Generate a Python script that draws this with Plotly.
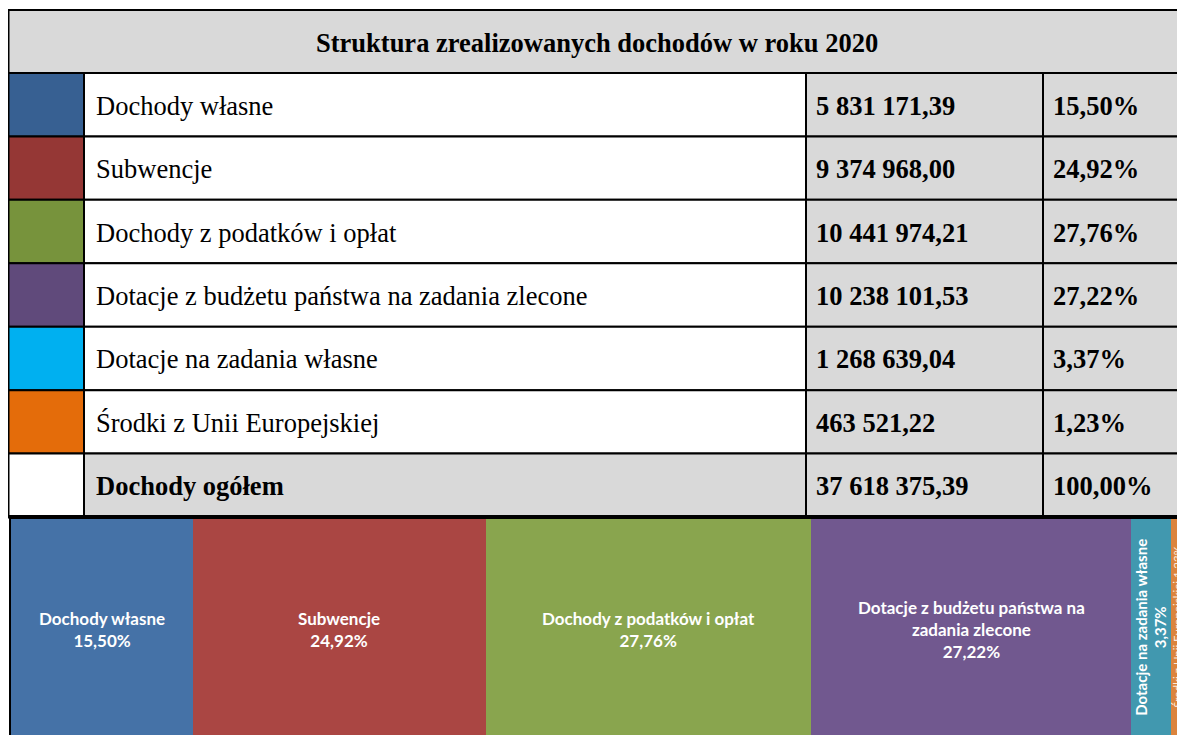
import plotly.graph_objects as go

# ---------------- data ----------------
TITLE = "Struktura zrealizowanych dochodów w roku 2020"
CATEGORIES = [
    "Dochody własne",
    "Subwencje",
    "Dochody z podatków i opłat",
    "Dotacje z budżetu państwa na zadania zlecone",
    "Dotacje na zadania własne",
    "Środki z Unii Europejskiej",
]
VALUES = [5831171.39, 9374968.00, 10441974.21, 10238101.53, 1268639.04, 463521.22]
TOTAL_LABEL = "Dochody ogółem"
BAR_LABELS = [
    "Dochody własne",
    "Subwencje",
    "Dochody z podatków i opłat",
    "Dotacje z budżetu państwa na<br>zadania zlecone",
    "Dotacje na zadania własne",
    "Środki z Unii Europejskiej",
]

# ---------------- styles ----------------
SWATCH_COLORS = ["#376092", "#953735", "#77933C", "#604A7B", "#00B0F0", "#E46C0A"]
BAR_COLORS = ["#4572A7", "#AA4643", "#89A54E", "#71588F", "#4198AF", "#DB843D"]
GRAY = "#D9D9D9"
SERIF = "Liberation Serif"
SANS = "Lato"

# The page body has an 8px margin, so the figure is sized to fit the window.
W, H = 1177, 727
COL_EDGES = [0.5, 76, 798, 1035, 1192]
TAB_TOP = 2
TITLE_H = 63
TAB_BOTTOM = 509
BAR_TOP = 511
BAR_LEFT = 3

total = sum(VALUES)
pcts = [v / total * 100 for v in VALUES]


def fmt_num(v):
    return f"{v:,.2f}".replace(",", " ").replace(".", ",")


def fmt_pct(p):
    return f"{p:.2f}".replace(".", ",") + "%"


fig = go.Figure()

# ---------------- bottom strip (stacked bar) ----------------
for cat, v, c in zip(CATEGORIES, VALUES, BAR_COLORS):
    fig.add_trace(go.Bar(
        x=[v], y=["Dochody"], orientation="h", name=cat,
        marker=dict(color=c, line=dict(width=0)),
        hovertemplate=cat + ": %{x:,.2f}<extra></extra>",
        showlegend=False,
        xaxis="x", yaxis="y",
    ))

annotations = []
cum = 0
for i, (lab, v, p) in enumerate(zip(BAR_LABELS, VALUES, pcts)):
    center = cum + v / 2
    cum += v
    share = v / total
    if share > 0.1:
        annotations.append(dict(
            x=center, y=0, xref="x", yref="y", yshift=-2, showarrow=False,
            text=f"<b>{lab}<br>{fmt_pct(p)}</b>",
            font=dict(family=SANS, size=17, color="white"),
            align="center",
        ))
    elif share > 0.02:
        annotations.append(dict(
            x=center, y=0, xref="x", yref="y", showarrow=False,
            text=f"<b>{lab}<br>{fmt_pct(p)}</b>", textangle=-90,
            font=dict(family=SANS, size=15, color="white"),
            align="center",
        ))
    else:
        annotations.append(dict(
            x=center, y=0, xref="x", yref="y", showarrow=False, xshift=-1,
            text=f"{lab} {fmt_pct(p)}", textangle=-90,
            font=dict(family=SANS, size=11.5, color="#FDEBDC"),
            align="center", borderpad=0,
        ))

# ---------------- table (shapes + annotations on pixel axes) ----------------
shapes = []
LINE = dict(color="black", width=2)

# title row
shapes.append(dict(type="rect", xref="x2", yref="y2",
                   x0=COL_EDGES[0], x1=COL_EDGES[-1], y0=TAB_TOP, y1=TAB_TOP + TITLE_H,
                   fillcolor=GRAY, line=LINE, layer="above"))
annotations.append(dict(
    x=(COL_EDGES[0] + W) / 2, y=TAB_TOP + TITLE_H / 2 + 1, xref="x2", yref="y2",
    showarrow=False, text=f"<b>{TITLE}</b>",
    font=dict(family=SERIF, size=26.5, color="black"),
    xanchor="center", yanchor="middle",
))

rows_lab = CATEGORIES + [TOTAL_LABEL]
rows_val = VALUES + [total]
rows_pct = pcts + [100.0]
rows_col = SWATCH_COLORS + ["white"]
n_rows = len(rows_lab)
row_h = (TAB_BOTTOM - TAB_TOP - TITLE_H) / n_rows

for i in range(n_rows):
    y0 = TAB_TOP + TITLE_H + i * row_h
    y1 = y0 + row_h
    is_total = i == n_rows - 1
    fills = [rows_col[i], GRAY if is_total else "white", GRAY, GRAY]
    for j in range(4):
        shapes.append(dict(type="rect", xref="x2", yref="y2",
                           x0=COL_EDGES[j], x1=COL_EDGES[j + 1], y0=y0, y1=y1,
                           fillcolor=fills[j], line=LINE, layer="above"))
    yc = (y0 + y1) / 2 + 1
    lab = f"<b>{rows_lab[i]}</b>" if is_total else rows_lab[i]
    texts = [lab, f"<b>{fmt_num(rows_val[i])}</b>", f"<b>{fmt_pct(rows_pct[i])}</b>"]
    for j, t in enumerate(texts):
        annotations.append(dict(
            x=COL_EDGES[j + 1] + 10 if j == 0 else COL_EDGES[j + 1] + 8,
            y=yc, xref="x2", yref="y2", showarrow=False, text=t,
            font=dict(family=SERIF, size=26.5, color="black"),
            xanchor="left", yanchor="middle",
        ))

# thick separator between table and strip, and left border of the strip
shapes.append(dict(type="line", xref="x2", yref="y2",
                   x0=COL_EDGES[0], x1=COL_EDGES[-1], y0=TAB_BOTTOM, y1=TAB_BOTTOM,
                   line=dict(color="black", width=4), layer="above"))
shapes.append(dict(type="line", xref="x2", yref="y2",
                   x0=BAR_LEFT - 1, x1=BAR_LEFT - 1, y0=TAB_BOTTOM, y1=H + 5,
                   line=dict(color="black", width=2), layer="above"))

fig.update_layout(
    width=W, height=H,
    margin=dict(l=0, r=0, t=0, b=0),
    paper_bgcolor="white", plot_bgcolor="rgba(0,0,0,0)",
    barmode="stack", bargap=0,
    xaxis=dict(domain=[BAR_LEFT / W, 1], range=[0, total], visible=False,
               fixedrange=True, anchor="y"),
    yaxis=dict(domain=[0, (H - BAR_TOP) / H], range=[-0.5, 0.5], visible=False,
               fixedrange=True, anchor="x"),
    xaxis2=dict(domain=[0, 1], range=[0, W], visible=False, fixedrange=True,
                anchor="y2"),
    yaxis2=dict(domain=[0, 1], range=[H, 0], visible=False, fixedrange=True,
                anchor="x2"),
    shapes=shapes,
    annotations=annotations,
    showlegend=False,
)

fig.write_html(
    "out.html",
    post_script=(
        "document.documentElement.style.overflow='hidden';"
        "document.body.style.overflow='hidden';"
    ),
)
